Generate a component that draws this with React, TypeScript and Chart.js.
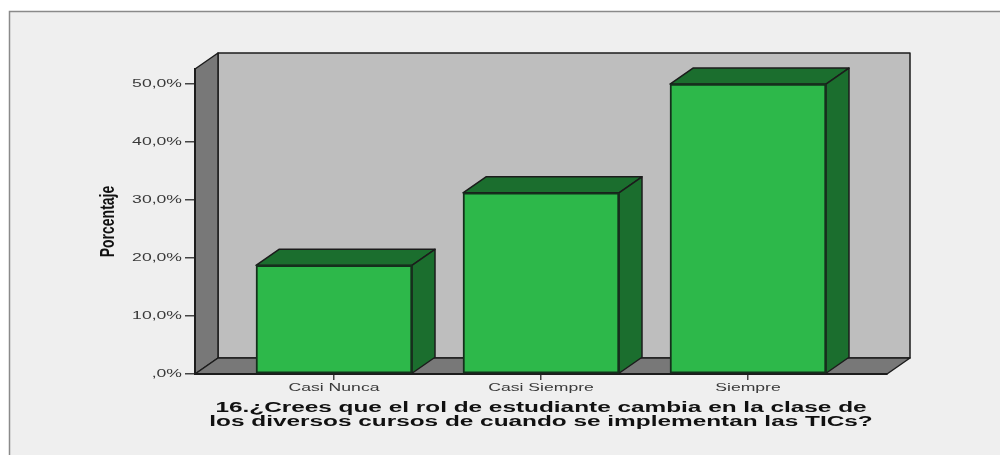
import React, { useEffect, useRef } from "react";
import { Chart, registerables } from "chart.js";

Chart.register(...registerables);

const categories = ["Casi Nunca", "Casi Siempre", "Siempre"];
const percentages = [18.75, 31.25, 50];
const yTicks = [0, 10, 20, 30, 40, 50];
const yTickLabels = [",0%", "10,0%", "20,0%", "30,0%", "40,0%", "50,0%"];
const xTitleLines = [
  "16.¿Crees que el rol de estudiante cambia en la clase de",
  "los diversos cursos de cuando se implementan las TICs?",
];
const yTitle = "Porcentaje";

const DX = 23;
const DY = -16;
const LINE = "#1c1c1c";
const TEXT_WIDEN = 1.6;
const X_TITLE_WIDEN = 1.74;
const Y_TITLE_WIDEN = 0.7;

function poly(ctx: CanvasRenderingContext2D, pts: number[][], fill: string, stroke = LINE, lw = 1.5) {
  ctx.beginPath();
  pts.forEach((p, i) => (i ? ctx.lineTo(p[0], p[1]) : ctx.moveTo(p[0], p[1])));
  ctx.closePath();
  ctx.fillStyle = fill;
  ctx.fill();
  ctx.strokeStyle = stroke;
  ctx.lineWidth = lw;
  ctx.lineJoin = "round";
  ctx.stroke();
}

const box3d = {
  id: "box3d",
  beforeDraw(chart: any) {
    const { ctx, width, height, chartArea: a } = chart;
    if (!ctx.__widened) {
      const orig = ctx.fillText.bind(ctx);
      ctx.fillText = (text: string, x: number, y: number) => {
        const k = text === yTitle ? Y_TITLE_WIDEN : xTitleLines.includes(text) ? X_TITLE_WIDEN : TEXT_WIDEN;
        ctx.save();
        ctx.translate(x, y);
        ctx.scale(k, 1);
        orig(text, 0, 0);
        ctx.restore();
      };
      ctx.__widened = true;
    }
    ctx.save();
    ctx.fillStyle = "#ffffff";
    ctx.fillRect(0, 0, width, height);
    ctx.fillStyle = "#efefef";
    ctx.fillRect(9, 11, width - 9, height - 11);
    ctx.strokeStyle = "#8a8a8a";
    ctx.lineWidth = 1.5;
    ctx.beginPath();
    ctx.moveTo(9.5, height);
    ctx.lineTo(9.5, 11.5);
    ctx.lineTo(width, 11.5);
    ctx.stroke();
    const { left: l, right: r, top: t, bottom: b } = a;
    poly(ctx, [[l + DX, t + DY], [r + DX, t + DY], [r + DX, b + DY], [l + DX, b + DY]], "#bebebe");
    poly(ctx, [[l, t], [l + DX, t + DY], [l + DX, b + DY], [l, b]], "#787878");
    poly(ctx, [[l, b], [l + DX, b + DY], [r + DX, b + DY], [r, b]], "#787878");
    ctx.restore();
  },
  beforeDatasetsDraw(chart: any) {
    const { ctx } = chart;
    ctx.save();
    chart.getDatasetMeta(0).data.forEach((bar: any) => {
      const { x, y, base, width: w } = bar.getProps(["x", "y", "base", "width"], true);
      const L = x - w / 2;
      const R = x + w / 2;
      poly(ctx, [[L, y], [L + DX, y + DY], [R + DX, y + DY], [R, y]], "#1b6e2e");
      poly(ctx, [[R, y], [R + DX, y + DY], [R + DX, base + DY], [R, base]], "#1b6e2e");
    });
    ctx.restore();
  },
};

export default function App() {
  const ref = useRef<HTMLCanvasElement>(null);
  useEffect(() => {
    document.body.style.margin = "0";
    document.body.style.background = "#fff";
    const chart = new Chart(ref.current!, {
      type: "bar",
      data: {
        datasets: [
          {
            data: percentages.map((v, i) => ({ x: i, y: v })),
            backgroundColor: "#2db84a",
            borderColor: "#14301c",
            borderWidth: 2,
            borderSkipped: false,
            barThickness: 156,
          },
        ],
      },
      options: {
        responsive: false,
        animation: false,
        layout: { padding: { left: 96, right: 113, top: 69, bottom: 0 } },
        plugins: { legend: { display: false }, tooltip: { enabled: false } },
        scales: {
          x: {
            type: "linear",
            offset: false,
            min: -0.6715,
            max: 2.6715,
            afterBuildTicks: (s: any) => {
              s.ticks = categories.map((_, i) => ({ value: i }));
            },
            afterFit: (s: any) => {
              s.height = 455 - 374;
            },
            grid: { offset: false, drawOnChartArea: false, color: "#444", tickLength: 6, lineWidth: 1.5 },
            border: { color: LINE, width: 2 },
            ticks: {
              autoSkip: false,
              maxRotation: 0,
              padding: 1,
              color: "#3a3a3a",
              font: { family: "Liberation Sans", size: 11 },
              callback: (v: any) => categories[v],
            },
            title: {
              display: true,
              text: xTitleLines,
              color: "#111",
              font: { family: "Liberation Sans", size: 14, weight: "bold", lineHeight: 1 },
              padding: { top: 0, bottom: 26 },
            },
          },
          y: {
            min: 0,
            max: 52.6,
            afterBuildTicks: (s: any) => {
              s.ticks = yTicks.map((value) => ({ value }));
            },
            afterFit: (s: any) => {
              s.width = 195 - 96;
            },
            grid: { drawOnChartArea: false, color: "#444", tickLength: 10, lineWidth: 1.5 },
            border: { color: LINE, width: 2 },
            ticks: {
              padding: 3,
              color: "#3a3a3a",
              font: { family: "Liberation Sans", size: 11 },
              callback: (v: any) => yTickLabels[yTicks.indexOf(v)],
            },
            title: {
              display: true,
              text: yTitle,
              color: "#111",
              font: { family: "Liberation Sans", size: 20, weight: "bold" },
              padding: 0,
            },
          },
        },
      },
      plugins: [box3d],
    } as any);
    return () => chart.destroy();
  }, []);
  return <canvas ref={ref} width={1000} height={455} style={{ display: "block" }} />;
}
